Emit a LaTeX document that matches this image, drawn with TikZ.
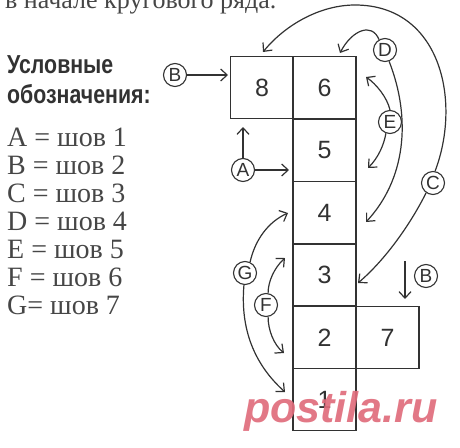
\documentclass[tikz,border=0pt]{standalone}
\usepackage{fontspec}
\setmainfont{Liberation Serif}
\setsansfont{Liberation Sans}
\usetikzlibrary{arrows.meta}
\definecolor{ink}{RGB}{50,50,50}
\definecolor{legink}{RGB}{70,70,70}
\definecolor{wm}{RGB}{224,108,124}
\begin{document}
\begin{tikzpicture}[x=1pt,y=-1pt,
  box/.style={draw=ink, line width=1.6pt, minimum width=63pt, minimum height=62pt, inner sep=0pt,
    font=\sffamily\fontsize{25}{25}\selectfont, text=ink},
  lab/.style={circle, draw=ink, line width=1.1pt, minimum size=23pt, inner sep=0pt,
    font=\sffamily\fontsize{19}{19}\selectfont, text=ink},
  arr/.style={draw=ink, line width=1.2pt, -{Straight Barb[length=6.5pt,width=12pt]}},
  legtitle/.style={anchor=base west, inner sep=0pt, text=ink},
  legline/.style={anchor=base west, inner sep=0pt, text=legink, font=\fontsize{28}{28}\selectfont}
]
\useasboundingbox (0,0) rectangle (460,447);
\clip (0,0) rectangle (460,447);

% top (cut-off) line of text
\node[anchor=base west, inner sep=0pt, text=legink, font=\fontsize{26}{26}\selectfont] (top) at (5,8.5) {в начале кругового ряда.};

% legend
\node[legtitle] (t1) at (7,73) {\scalebox{0.82}[1]{\sffamily\bfseries\fontsize{26}{26}\selectfont Условные}};
\node[legtitle] (t2) at (7,103) {\scalebox{0.82}[1]{\sffamily\bfseries\fontsize{26}{26}\selectfont обозначения:}};
\node[legline] (lA) at (7,146) {A = шов 1};
\node[legline] (lB) at (7,174) {B = шов 2};
\node[legline] (lC) at (7,202) {C = шов 3};
\node[legline] (lD) at (7,230) {D = шов 4};
\node[legline] (lE) at (7,258) {E = шов 5};
\node[legline] (lF) at (7,286) {F = шов 6};
\node[legline] (lG) at (7,314) {G= шов 7};

% boxes
\node[box] (b8) at (262,87.5) {8};
\node[box] (b6) at (324.5,87.5) {6};
\node[box] (b5) at (324.5,150.5) {5};
\node[box] (b4) at (324.5,212.5) {4};
\node[box] (b3) at (324.5,275) {3};
\node[box] (b2) at (324.5,337.5) {2};
\node[box] (b1) at (324.5,399.5) {1};
\node[box] (b7) at (387.5,337.5) {7};

% circle labels
\node[lab] (cB1) at (175,75) {B};
\node[lab] (cA) at (243,170) {A};
\node[lab] (cD) at (385,50) {D};
\node[lab] (cE) at (390,122) {E};
\node[lab] (cC) at (433,183) {C};
\node[lab] (cB2) at (426,276) {B};
\node[lab] (cG) at (245,273) {G};
\node[lab] (cF) at (266,305) {F};

% arrow end points
\coordinate (tB8) at (228,75);
\coordinate (tA8) at (243,127);
\coordinate (tA5) at (289,170);
\coordinate (tD6) at (340,53);
\coordinate (tD4) at (366,222);
\coordinate (pC) at (355,5);
\coordinate (tC8) at (263,52);
\coordinate (tC3) at (358,283);
\coordinate (tE6) at (366,77);
\coordinate (tE5) at (368,168);
\coordinate (sB2) at (405,261);
\coordinate (tB7) at (405,299);
\coordinate (tG4) at (288,213);
\coordinate (tG1) at (285,392);
\coordinate (tF3) at (285,258);
\coordinate (tF2) at (284,353);

% connectors
\draw[arr] (cB1.east) -- (tB8);
\draw[arr] (cA.north) -- (tA8);
\draw[arr] (cA.east) -- (tA5);
\draw[arr] (cD.120) .. controls (372,22) and (352,30) .. (tD6);
\draw[arr] (cD.-70) .. controls (412,120) and (405,180) .. (tD4);
\draw[arr] (cC.80) .. controls (462,100) and (440,5) .. (pC) .. controls (320,5) and (285,25) .. (tC8);
\draw[arr] (cC.235) .. controls (410,225) and (385,260) .. (tC3);
\draw[arr] (cE.north) .. controls (387,97) and (376,84) .. (tE6);
\draw[arr] (cE.-110) .. controls (384,145) and (378,158) .. (tE5);
\draw[arr] (sB2) -- (tB7);
\draw[arr] (cG.65) .. controls (255,240) and (268,222) .. (tG4);
\draw[arr] (cG.-95) .. controls (240,330) and (255,365) .. (tG1);
\draw[arr] (cF.80) .. controls (268,282) and (274,268) .. (tF3);
\draw[arr] (cF.-80) .. controls (268,330) and (274,345) .. (tF2);

% watermark
\node[anchor=base west, inner sep=0pt, text=wm, opacity=0.92,
  font=\sffamily\bfseries\itshape\fontsize{43}{43}\selectfont] (wmk) at (244,422) {postila.ru};
\end{tikzpicture}
\end{document}
